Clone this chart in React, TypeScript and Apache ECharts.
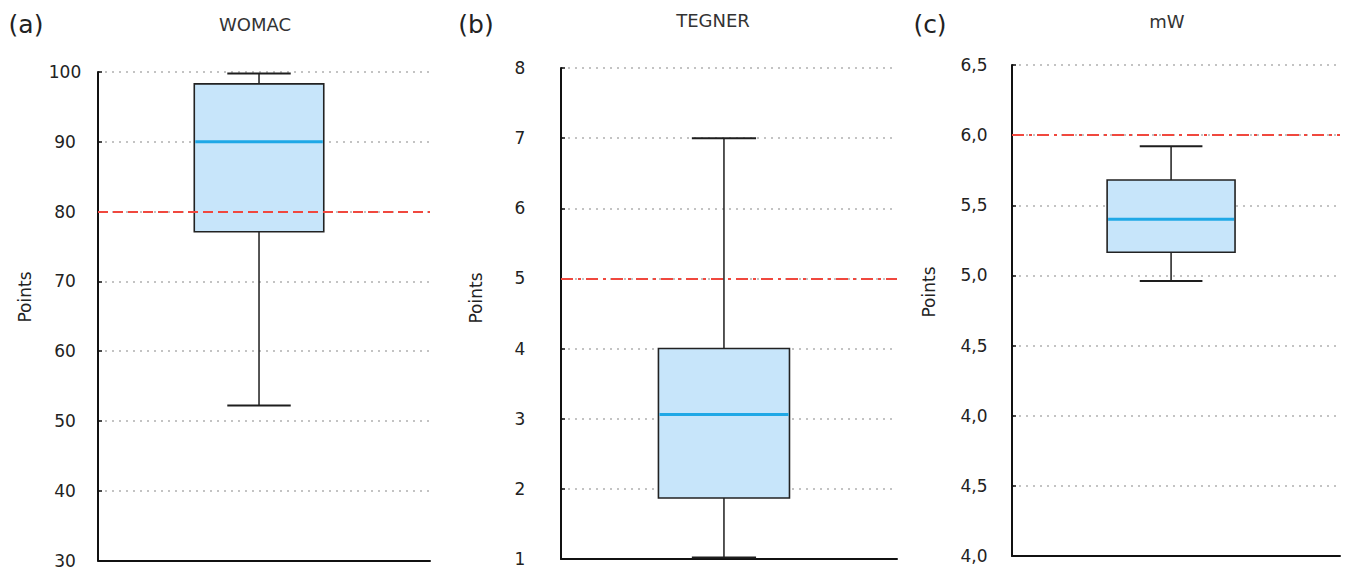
import React, { useEffect, useRef } from "react";
import * as echarts from "echarts";

const panelLabels = ["(a)", "(b)", "(c)"];
const titles = ["WOMAC", "TEGNER", "mW"];
const category = ["score"];

// [lower whisker, Q1, median, Q3, upper whisker]
const womacBox = [52.2, 77.1, 90.0, 98.3, 99.8];
const tegnerBox = [1.02, 1.87, 3.06, 4.0, 7.0];
const mwBox = [4.96, 5.165, 5.4, 5.68, 5.92];

const thresholds = [80, 5, 6.0];

const womacTicks = ["30", "40", "50", "60", "70", "80", "90", "100"];
const tegnerTicks = ["1", "2", "3", "4", "5", "6", "7", "8"];
const mwTicks = ["4,0", "4,5", "4,0", "4,5", "5,0", "5,5", "6,0", "6,5"];

const FONT = "DejaVu Sans";

const grids = [
  { left: 98, top: 72, width: 332, height: 491 },
  { left: 561, top: 68, width: 336, height: 491 },
  { left: 1012, top: 65, width: 328, height: 491 },
];

const axisRanges = [
  { min: 30, max: 100, interval: 10, ticks: womacTicks, margin: 33 },
  { min: 1, max: 8, interval: 1, ticks: tegnerTicks, margin: 41 },
  { min: 3.0, max: 6.5, interval: 0.5, ticks: mwTicks, margin: 38 },
];

const boxes = [womacBox, tegnerBox, mwBox];
const refDash = [
  [10, 5],
  [12, 5, 3, 5],
  [12, 5, 3, 5],
];

const titlePos = [
  { x: 255, y: 24 },
  { x: 713, y: 20 },
  { x: 1167, y: 21 },
];
const panelPos = [
  { x: 26, y: 24 },
  { x: 476, y: 24 },
  { x: 930, y: 24 },
];
const pointsPos = [
  { x: 25, y: 297 },
  { x: 476, y: 298 },
  { x: 929, y: 292 },
];

function renderBox(params: any, api: any) {
  const xv = api.value(0);
  const low = api.coord([xv, api.value(1)]);
  const q1 = api.coord([xv, api.value(2)]);
  const med = api.coord([xv, api.value(3)]);
  const q3 = api.coord([xv, api.value(4)]);
  const high = api.coord([xv, api.value(5)]);
  const band = api.size([1, 0])[0];
  const cx = low[0] - band * 0.015;
  const bw = band * 0.39;
  const cw = bw * 0.49;
  const stroke = { stroke: "#1e1e1e", lineWidth: 1.5 };
  return {
    type: "group",
    children: [
      { type: "line", shape: { x1: cx, y1: q3[1], x2: cx, y2: high[1] }, style: stroke },
      { type: "line", shape: { x1: cx, y1: q1[1], x2: cx, y2: low[1] }, style: stroke },
      { type: "line", shape: { x1: cx - cw / 2, y1: high[1], x2: cx + cw / 2, y2: high[1] }, style: { stroke: "#1e1e1e", lineWidth: 2 } },
      { type: "line", shape: { x1: cx - cw / 2, y1: low[1], x2: cx + cw / 2, y2: low[1] }, style: { stroke: "#1e1e1e", lineWidth: 2 } },
      {
        type: "rect",
        shape: { x: cx - bw / 2, y: q3[1], width: bw, height: q1[1] - q3[1] },
        style: { fill: "#c7e5fa", stroke: "#222", lineWidth: 1.6 },
      },
      {
        type: "line",
        shape: { x1: cx - bw / 2 + 1, y1: med[1], x2: cx + bw / 2 - 1, y2: med[1] },
        style: { stroke: "#1fa8e6", lineWidth: 3 },
      },
    ],
  };
}

export default function App() {
  const ref = useRef<HTMLDivElement>(null);
  useEffect(() => {
    if (!ref.current) return;
    const chart = echarts.init(ref.current, null, { renderer: "svg" });
    const textStyleBase = { fontFamily: FONT, fill: "#222" };
    const graphics: any[] = [];
    for (let i = 0; i < 3; i++) {
      graphics.push({
        type: "text",
        x: titlePos[i].x,
        y: titlePos[i].y,
        style: { ...textStyleBase, text: titles[i], fontSize: 18, fill: "#333", textAlign: "center", textVerticalAlign: "middle" },
      });
      graphics.push({
        type: "text",
        x: panelPos[i].x,
        y: panelPos[i].y,
        style: { ...textStyleBase, text: panelLabels[i], fontSize: 25, fill: "#222", textAlign: "center", textVerticalAlign: "middle" },
      });
      graphics.push({
        type: "text",
        x: pointsPos[i].x,
        y: pointsPos[i].y,
        rotation: Math.PI / 2,
        style: { ...textStyleBase, text: "Points", fontSize: 17, fill: "#222", textAlign: "center", textVerticalAlign: "middle" },
      });
    }

    const option: any = {
      animation: false,
      backgroundColor: "#fff",
      grid: grids.map((g) => ({ ...g, containLabel: false })),
      xAxis: grids.map((_, i) => ({
        type: "category",
        gridIndex: i,
        data: category,
        axisLine: { show: true, onZero: false, lineStyle: { color: "#111", width: 2 } },
        axisTick: { show: false },
        axisLabel: { show: false },
        splitLine: { show: false },
      })),
      yAxis: axisRanges.map((a, i) => ({
        type: "value",
        gridIndex: i,
        min: a.min,
        max: a.max,
        interval: a.interval,
        axisLine: { show: true, lineStyle: { color: "#111", width: 2 } },
        axisTick: { show: true, inside: true, length: 4, lineStyle: { color: "#111", width: 1.5 } },
        axisLabel: {
          show: true,
          margin: a.margin,
          align: "center",
          fontFamily: FONT,
          fontSize: 17,
          color: "#222",
          formatter: (v: number) => a.ticks[Math.round((v - a.min) / a.interval)] ?? "",
        },
        splitLine: { show: true, lineStyle: { color: "#b0b0b0", width: 1.5, type: [2, 5] } },
      })),
      series: [
        ...boxes.map((b, i) => ({
          type: "custom",
          xAxisIndex: i,
          yAxisIndex: i,
          renderItem: renderBox,
          encode: { x: 0, y: [1, 2, 3, 4, 5] },
          data: [[0, ...b]],
          z: 3,
        })),
        ...thresholds.map((t, i) => ({
          type: "line",
          xAxisIndex: i,
          yAxisIndex: i,
          data: [],
          z: 5,
          markLine: {
            silent: true,
            symbol: "none",
            label: { show: false },
            z: 5,
            lineStyle: { color: "#f0483e", width: 2, type: refDash[i] },
            data: [{ yAxis: t }],
          },
        })),
      ],
      graphic: graphics,
    };
    chart.setOption(option);
    return () => chart.dispose();
  }, []);
  return (
    <div
      ref={ref}
      style={{ position: "fixed", left: 0, top: 0, width: 1354, height: 569, background: "#fff" }}
    />
  );
}
